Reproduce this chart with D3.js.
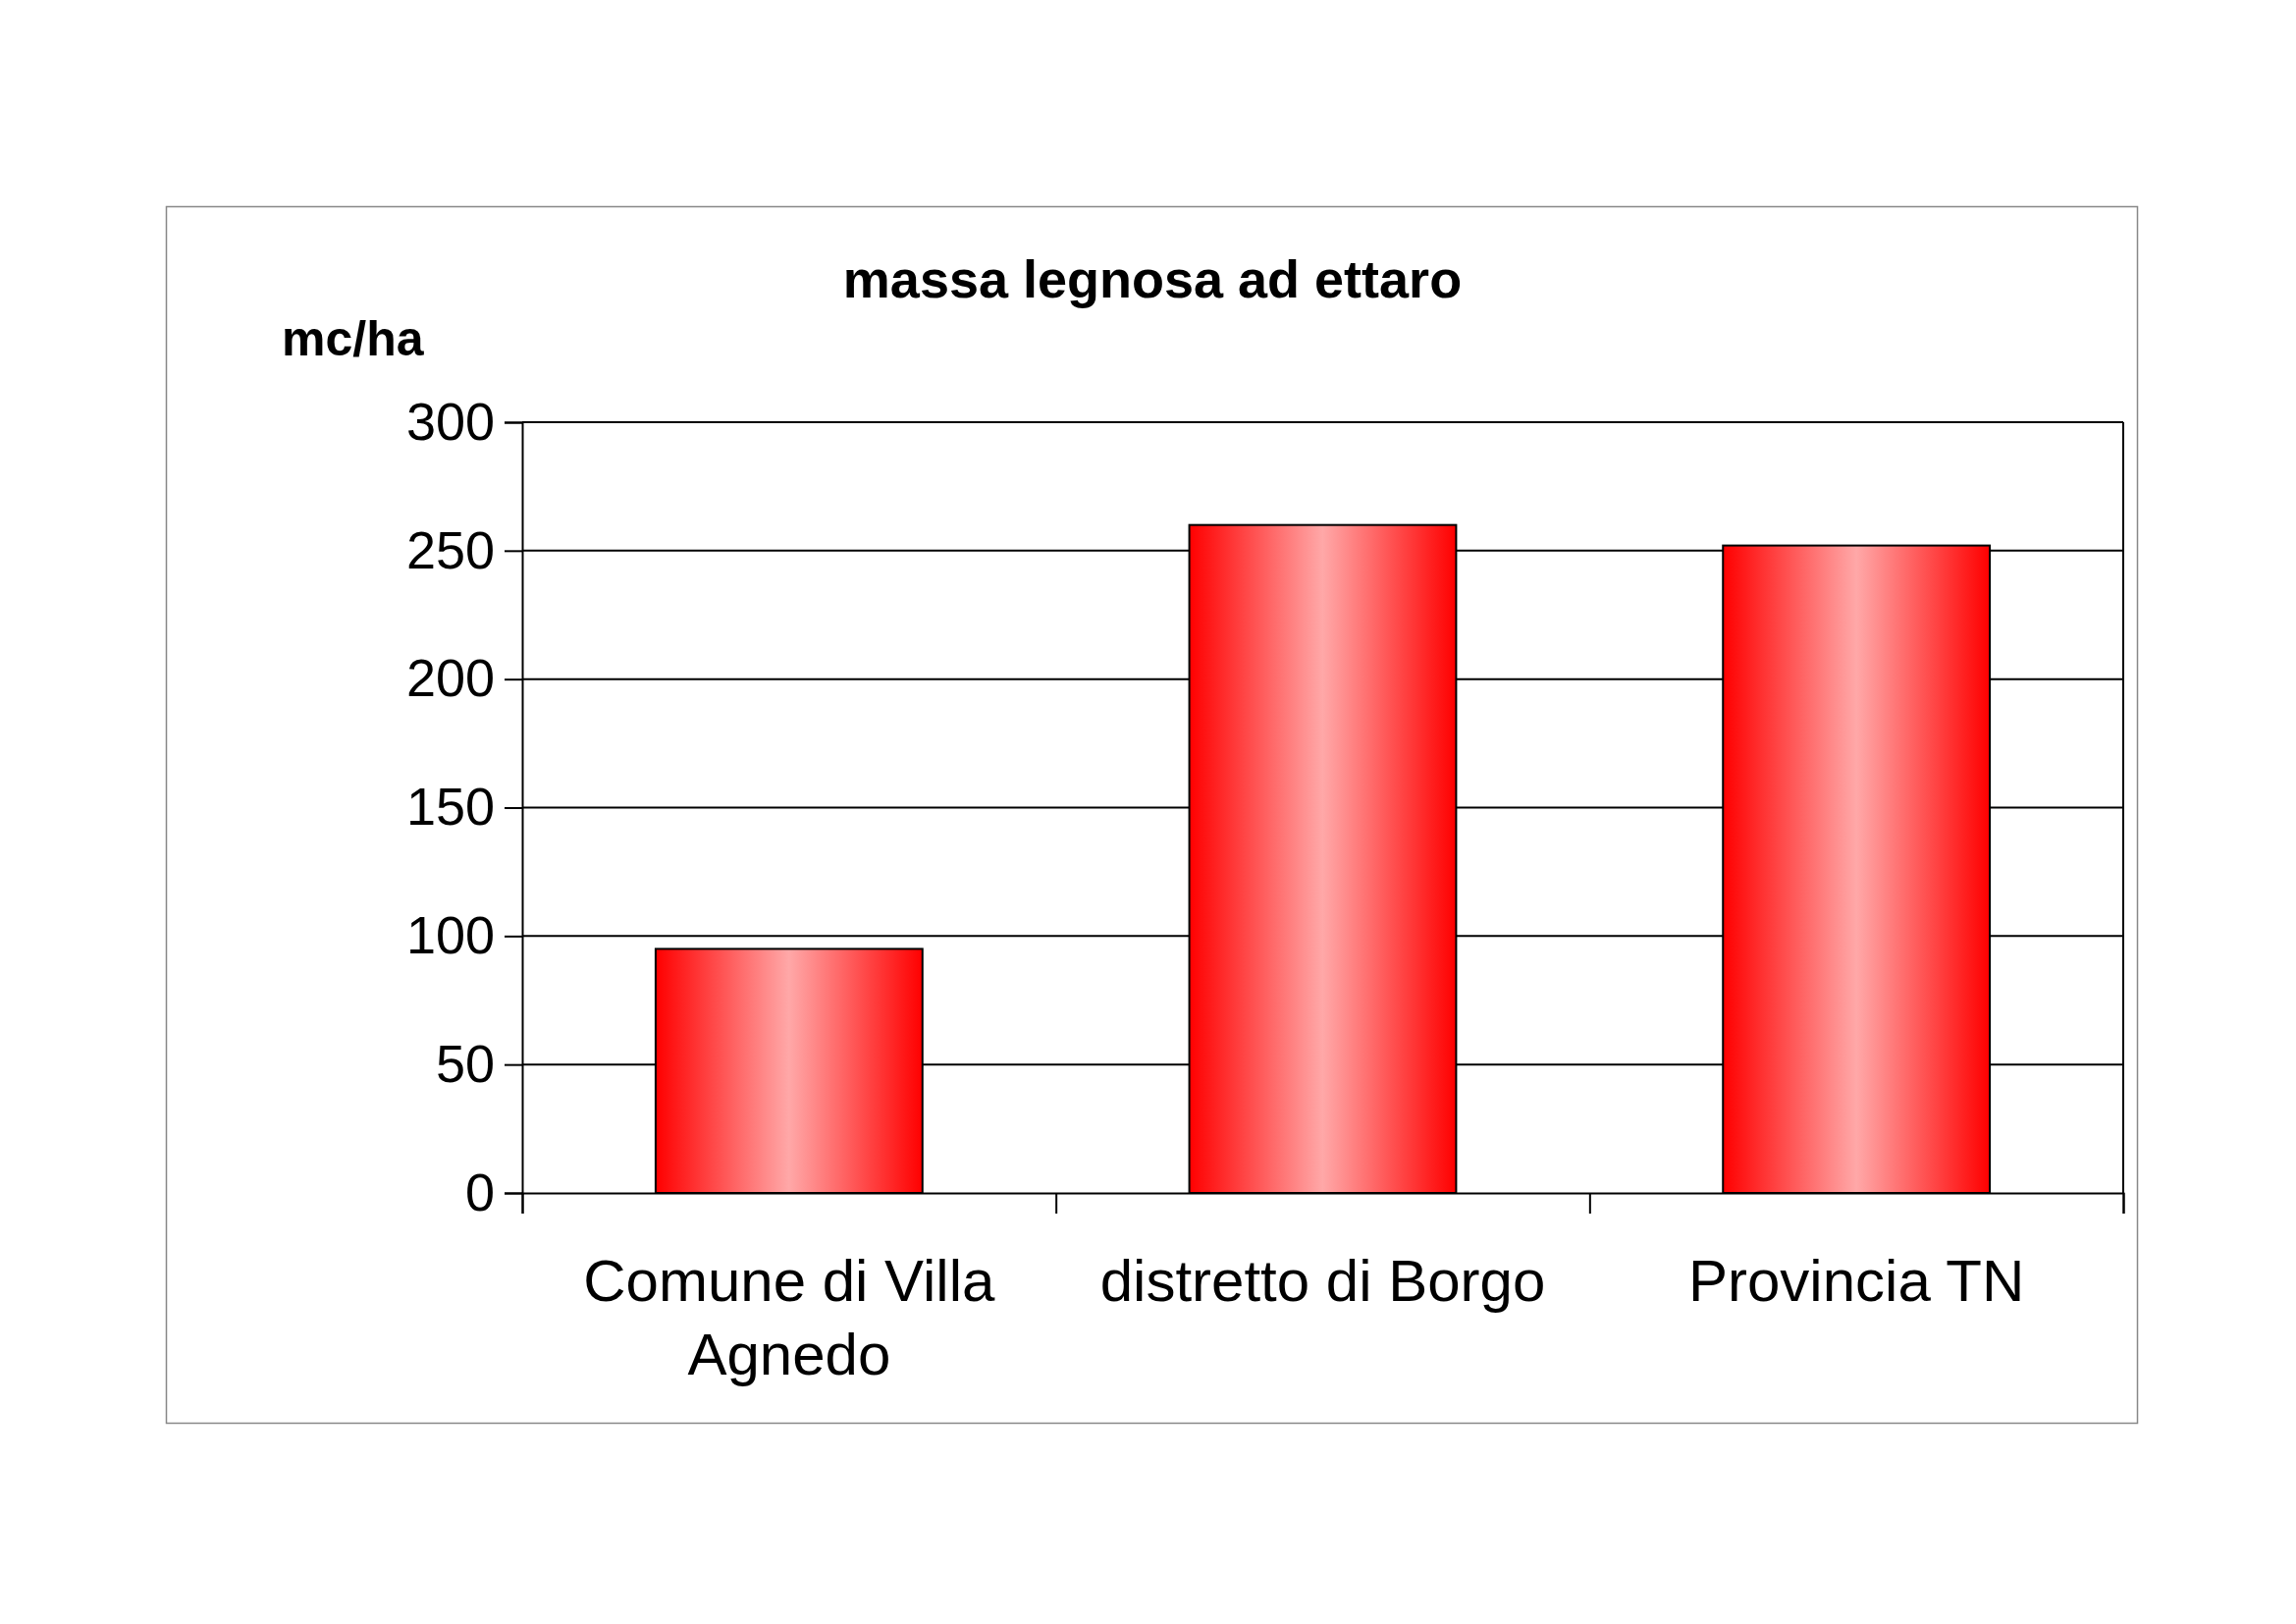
<!DOCTYPE html>
<html><head><meta charset="utf-8">
<script src="https://cdn.jsdelivr.net/npm/d3@7"></script>
<style>body{margin:0;background:#fff}</style></head>
<body><svg id="c" width="2339" height="1654"></svg>
<script>
const categories = [["Comune di Villa","Agnedo"],["distretto di Borgo"],["Provincia TN"]];
const values = [95, 260, 252];
const yTicks = [0,50,100,150,200,250,300];
const title = "massa legnosa ad ettaro";
const yLabel = "mc/ha";

const svg = d3.select("#c");
const font = "Arial, 'Liberation Sans', sans-serif";
svg.append("rect").attr("x",169.5).attr("y",210.5).attr("width",2008).attr("height",1239)
  .attr("fill","#fff").attr("stroke","#888").attr("stroke-width",1.5);

const L=532,R=2163,T=430,B=1215;
const x = d3.scaleBand().domain(d3.range(categories.length)).range([L,R]).paddingInner(0.5).paddingOuter(0.25);
const y = d3.scaleLinear().domain([0,300]).range([B,T]);

const defs = svg.append("defs");
const g = defs.append("linearGradient").attr("id","bg").attr("x1","0").attr("x2","1").attr("y1","0").attr("y2","0");
[[0,"#ff0000"],[0.5,"#ffa8a8"],[1,"#ff0000"]].forEach(([o,c])=>g.append("stop").attr("offset",o).attr("stop-color",c));

// gridlines
svg.append("g").selectAll("line").data(yTicks.slice(1)).join("line")
  .attr("x1",L).attr("x2",R).attr("y1",d=>y(d)).attr("y2",d=>y(d)).attr("stroke","#000").attr("stroke-width",2);
svg.append("line").attr("x1",R).attr("x2",R).attr("y1",T).attr("y2",B).attr("stroke","#000").attr("stroke-width",2);

svg.append("g").selectAll("rect").data(values).join("rect")
  .attr("x",(d,i)=>x(i)).attr("width",x.bandwidth()).attr("y",d=>y(d)).attr("height",d=>B-y(d))
  .attr("fill","url(#bg)").attr("stroke","#000").attr("stroke-width",2);

const ya = svg.append("g").attr("transform",`translate(${L},0)`)
  .call(d3.axisLeft(y).tickValues(yTicks).tickSize(18).tickPadding(10));
ya.selectAll("text").attr("font-family",font).attr("font-size",54).attr("fill","#000");
ya.selectAll("line,path").attr("stroke","#000").attr("stroke-width",2);

const xs = d3.scaleLinear().domain([0,3]).range([L,R]);
const xa = svg.append("g").attr("transform",`translate(0,${B})`)
  .call(d3.axisBottom(xs).tickValues([0,1,2,3]).tickSize(21).tickFormat(""));
xa.selectAll("line,path").attr("stroke","#000").attr("stroke-width",2);

categories.forEach((lines,i)=>{
  const t = svg.append("text").attr("x",x(i)+x.bandwidth()/2).attr("y",1325)
    .attr("text-anchor","middle").attr("font-family",font).attr("font-size",60);
  lines.forEach((s,j)=>t.append("tspan").attr("x",x(i)+x.bandwidth()/2).attr("dy",j?75:0).text(s));
});

svg.append("text").attr("x",1174).attr("y",303).attr("text-anchor","middle")
  .attr("font-family",font).attr("font-weight","bold").attr("font-size",54).text(title);
svg.append("text").attr("x",287).attr("y",362)
  .attr("font-family",font).attr("font-weight","bold").attr("font-size",50).text(yLabel);
</script></body></html>
